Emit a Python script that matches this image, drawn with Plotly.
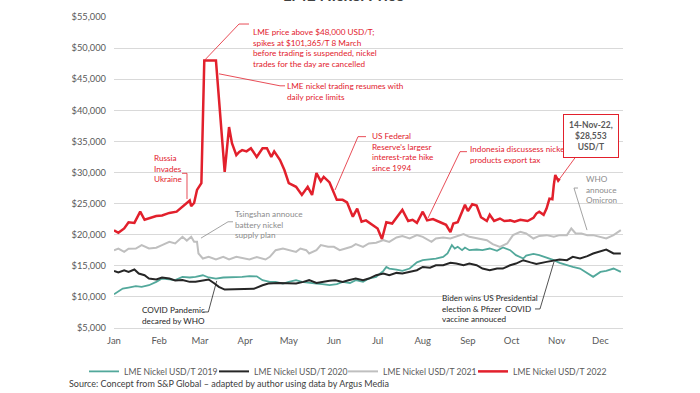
import pandas as pd
import plotly.graph_objects as go

# ---------------- DATA (day offsets from 1 Jan, price USD/T) ----------------
days_2022 = [0, 3, 7, 10, 14, 18, 21, 24, 29, 33, 38, 43, 48, 52, 53, 55, 57, 60, 62, 70,
             76, 79, 81, 84, 86, 88, 91, 94, 98, 102, 105, 108, 110, 114, 117, 120, 125, 129,
             133, 136, 139, 142, 144, 148, 153, 157, 160, 164, 167, 170, 173, 177, 181, 184,
             187, 191, 198, 202, 205, 208, 212, 215, 219, 224, 228, 231, 233, 236, 241, 243,
             246, 249, 252, 256, 258, 261, 265, 268, 272, 275, 279, 284, 288, 290, 292, 295,
             297, 299, 301, 302, 303, 305, 306]
nickel_2022 = [20700, 20300, 21000, 22000, 21900, 23700, 22400, 22600, 23000, 23100, 23500,
               23700, 24700, 25500, 24600, 25100, 27200, 28300, 48000, 48000,
               30100, 37300, 34700, 32800, 33300, 33600, 33400, 33900, 32500, 33900, 33900,
               32500, 33400, 32000, 30400, 28300, 27700, 26400, 27700, 26400, 29900, 28600,
               29300, 28400, 25600, 25600, 25200, 22900, 24200, 22100, 22300, 21600, 21000,
               19300, 22000, 21800, 24000, 22200, 22400, 21900, 23700, 22300, 22500, 22000,
               21600, 20400, 21800, 22000, 24800, 23800, 24900, 24700, 22800, 22200, 23200,
               22200, 22600, 22200, 22300, 22100, 22400, 22200, 22700, 23400, 23700, 23200,
               24200, 25800, 25700, 28000, 29600, 28700, 29000]

days_2021 = [0, 3, 7, 10, 15, 19, 24, 29, 33, 38, 42, 47, 50, 53, 55, 57, 58, 61, 65, 70,
             75, 79, 84, 88, 93, 98, 104, 107, 111, 116, 120, 125, 128, 132, 134, 139, 142,
             147, 151, 155, 159, 163, 166, 171, 175, 180, 185, 189, 194, 198, 203, 208, 212,
             218, 221, 226, 231, 235, 240, 244, 249, 256, 260, 265, 270, 274, 279, 283, 288,
             292, 297, 302, 306, 311, 314, 317, 321, 325, 329, 334, 338, 343, 348]
nickel_2021 = [17500, 17780, 17240, 17750, 17780, 18320, 17780, 17900, 18320, 18850, 18600,
               19660, 19050, 19660, 18850, 18850, 16980, 16170, 16440, 16030, 16440, 16030,
               16440, 16300, 16030, 16400, 16010, 16440, 17510, 17780, 17510, 17240, 17780,
               17510, 16980, 17510, 18320, 18050, 18050, 17510, 17780, 18050, 18480, 18050,
               18590, 18700, 19120, 18850, 19550, 19770, 19390, 19930, 19660, 18850, 19390,
               19550, 19390, 19660, 20090, 19660, 19390, 19120, 18480, 18050, 18590, 19930,
               20470, 20200, 19390, 19800, 19930, 19660, 19930, 19930, 21000, 20200, 20200,
               19930, 19930, 19660, 19400, 19930, 20730]

days_2020 = [0, 3, 7, 10, 14, 17, 21, 24, 29, 33, 38, 42, 47, 52, 56, 61, 65, 69, 72, 76,
             84, 91, 96, 102, 106, 113, 120, 125, 130, 134, 139, 143, 148, 152, 157, 161,
             166, 171, 175, 180, 185, 189, 194, 198, 203, 208, 212, 217, 221, 226, 231, 235,
             240, 244, 249, 253, 258, 263, 267, 272, 276, 281, 286, 290, 297, 302, 306, 311,
             315, 320, 325, 329, 334, 338, 343, 348]
nickel_2020 = [14180, 13920, 14290, 14020, 14400, 13750, 13490, 12950, 12800, 13120, 12950,
               12650, 12700, 12420, 12420, 12690, 12800, 12150, 11620, 11180, 11180, 11200,
               11300, 11880, 12150, 12240, 12240, 12150, 12420, 12690, 12240, 12420, 12600,
               12690, 12420, 12690, 12950, 12690, 12950, 13490, 13760, 13490, 13860, 13760,
               14020, 14290, 14820, 14700, 15090, 15090, 15470, 15360, 15090, 15360, 15090,
               14560, 14290, 14560, 14560, 15090, 15360, 15900, 15550, 15300, 15630, 15900,
               16010, 15900, 16440, 16170, 16550, 16980, 17400, 17620, 16980, 16990]

days_2019 = [0, 6, 10, 15, 19, 24, 29, 33, 38, 42, 47, 52, 56, 61, 65, 70, 75, 79, 84, 88,
             93, 98, 102, 107, 111, 116, 120, 125, 129, 134, 139, 143, 148, 153, 157, 162,
             166, 171, 175, 180, 185, 187, 189, 194, 198, 203, 208, 212, 217, 221, 226, 229,
             232, 234, 236, 239, 241, 244, 249, 253, 258, 263, 267, 272, 276, 281, 283, 288,
             292, 297, 302, 306, 311, 315, 320, 325, 329, 334, 338, 343, 348]
nickel_2019 = [10420, 11340, 11500, 11720, 11610, 11880, 12420, 12950, 12800, 12690, 13230,
               13120, 13230, 13480, 13120, 12950, 13120, 13120, 13120, 13230, 13330, 13300,
               12690, 12420, 12420, 12150, 12420, 12690, 12420, 12240, 12150, 12050, 11880,
               12050, 12420, 12240, 12690, 12420, 12950, 13230, 14180, 14820, 14560, 14400,
               14180, 14560, 15550, 15900, 16010, 16170, 16440, 16980, 18320, 17780, 18050,
               17510, 17940, 17510, 17620, 17510, 17780, 17400, 17940, 17510, 16710, 16170,
               16650, 16900, 16710, 16330, 15900, 15470, 15090, 14820, 14560, 13760, 13230,
               14020, 14180, 14560, 14020]

series_names = ["LME Nickel USD/T 2019", "LME Nickel USD/T 2020",
                "LME Nickel USD/T 2021", "LME Nickel USD/T 2022"]
month_labels = ["Jan", "Feb", "Mar", "Apr", "May", "Jun",
                "Jul", "Aug", "Sep", "Oct", "Nov", "Dec"]
y_ticks = [5000, 10000, 15000, 20000, 25000, 30000, 35000, 40000, 45000, 50000, 55000]

# ---------------- STYLE ----------------
FONT = "Lato, Roboto, sans-serif"
RED = "#e2202c"
GRAY = "#bfbfbf"
GRAYTXT = "#8c8c8c"
BLACK = "#262626"
TEAL = "#52a89b"
BASE = pd.Timestamp("2022-01-01")
W, H = 700, 393


def to_dates(days):
    return [BASE + pd.Timedelta(days=d) for d in days]


# plot area in pixels
L, R, T, B = 114, 623, 17.3, 327.7


def px(x):
    return (x - L) / (R - L)


def py(y):
    return (B - y) / (B - T)


legend_ids = ["legend", "legend2", "legend3", "legend4"]
legend_left = [84, 214, 343, 473]

fig = go.Figure()
for i, (d, v, col, w) in enumerate([
    (days_2019, nickel_2019, TEAL, 1.8),
    (days_2020, nickel_2020, BLACK, 2),
    (days_2021, nickel_2021, GRAY, 2),
    (days_2022, nickel_2022, RED, 2.5),
]):
    fig.add_trace(go.Scatter(x=to_dates(d), y=v, name=series_names[i], mode="lines",
                             line=dict(color=col, width=w), legend=legend_ids[i]))


def leader(points, color):
    path = "M " + " L ".join(f"{px(a):.4f},{py(b):.4f}" for a, b in points)
    return dict(type="path", xref="paper", yref="paper", path=path,
                line=dict(color=color, width=0.8))


def note(text, left, center, color, size=8.2):
    return dict(text=text, xref="paper", yref="paper", x=px(left - 2), y=py(center),
                xanchor="left", yanchor="middle", align="left", showarrow=False,
                font=dict(family=FONT, size=size, color=color))


annotations = [
    note("LME price above $48,000 USD/T;<br>spikes at $101,365/T 8 March<br>"
         "before trading is suspended, nickel<br>trades for the day are cancelled",
         253, 48, RED),
    note("LME nickel trading resumes with<br>daily price limits", 287, 91.3, RED),
    note("Russia<br>Invades<br>Ukraine", 154, 169, RED),
    note("US Federal<br>Reserve's largesr<br>interest-rate hike<br>since 1994", 371.5, 152, RED),
    note("Indonesia discussess nickel<br>products export tax", 470, 154.7, RED),
    note("WHO<br>annouce<br>Omicron", 585.5, 189, GRAYTXT),
    note("Tsingshan annouce<br>battery nickel<br>supply plan", 235, 224, GRAYTXT),
    note("COVID Pandemic<br>decared by WHO", 141.5, 315.3, BLACK),
    note("Biden wins US Presidential<br>election & Pfizer  COVID<br>vaccine annouced",
         441.5, 308.7, BLACK),
    dict(text="<b>14-Nov-22,<br>$28,553<br>USD/T</b>", xref="paper", yref="paper",
         x=px(558), y=py(181), ax=33, ay=-45, showarrow=True, arrowhead=0,
         arrowcolor=RED, arrowwidth=0.8, bordercolor=RED, borderwidth=1, borderpad=5,
         bgcolor="white", align="center", font=dict(family=FONT, size=8.5, color="#595959")),
    dict(text="<b>LME Nickel Price</b>", xref="paper", yref="paper", x=px(343), y=py(6),
         xanchor="center", yanchor="bottom", showarrow=False,
         font=dict(family=FONT, size=16, color="#404040")),
    dict(text="Source: Concept from S&P Global – adapted by author using data by Argus Media",
         xref="paper", yref="paper", x=px(67), y=py(383), xanchor="left", yanchor="middle",
         showarrow=False, font=dict(family=FONT, size=9, color="#404040")),
]

shapes = [
    leader([(205, 60), (239, 24.3), (249, 24.3)], RED),
    leader([(219, 74), (280, 86), (285, 86)], RED),
    leader([(182, 173.3), (187, 173.3), (187, 199)], RED),
    leader([(335, 190), (358, 136.7), (366, 136.7)], RED),
    leader([(428, 218), (460, 151.7), (467, 151.7)], RED),
    leader([(587, 230), (574, 188), (578, 188)], GRAYTXT),
    leader([(201, 238), (228, 221.7), (233, 221.7)], GRAYTXT),
    leader([(203, 311.7), (208.3, 311.7), (216.7, 280.7)], BLACK),
    leader([(535, 308.7), (540, 308.7), (554, 261.7)], BLACK),
]

month_starts = [BASE + pd.DateOffset(months=i) for i in range(12)]

legends = {}
for lid, lx in zip(legend_ids, legend_left):
    legends[lid] = dict(orientation="h", xref="paper", yref="paper",
                        x=px(lx), xanchor="left", y=py(371), yanchor="middle",
                        itemwidth=30, bgcolor="rgba(0,0,0,0)",
                        font=dict(family=FONT, size=8.6, color="#595959"))

fig.update_layout(
    width=W, height=H,
    margin=dict(l=L, r=W - R, t=T, b=H - B, pad=0, autoexpand=False),
    paper_bgcolor="white", plot_bgcolor="white",
    font=dict(family=FONT, size=10, color="#595959"),
    showlegend=True,
    xaxis=dict(type="date", range=[BASE, BASE + pd.Timedelta(days=349.5)],
               tickvals=month_starts, ticktext=month_labels, showgrid=False,
               showline=True, linecolor="#d9d9d9", linewidth=1, ticks="",
               zeroline=False, ticklabelstandoff=4, tickfont=dict(size=9.5, color="#595959")),
    yaxis=dict(range=[5000, 55000], tickvals=y_ticks,
               ticktext=[f"${v:,}" for v in y_ticks], showgrid=True,
               gridcolor="#d9d9d9", gridwidth=1, zeroline=False, showline=False,
               ticks="", ticklabelstandoff=7, tickfont=dict(size=9.3, color="#595959")),
    annotations=annotations,
    shapes=shapes,
    **legends,
)

fig.write_html("out.html", config={"displayModeBar": False},
               post_script="document.body.style.margin='0px';document.body.style.overflow='hidden';")
